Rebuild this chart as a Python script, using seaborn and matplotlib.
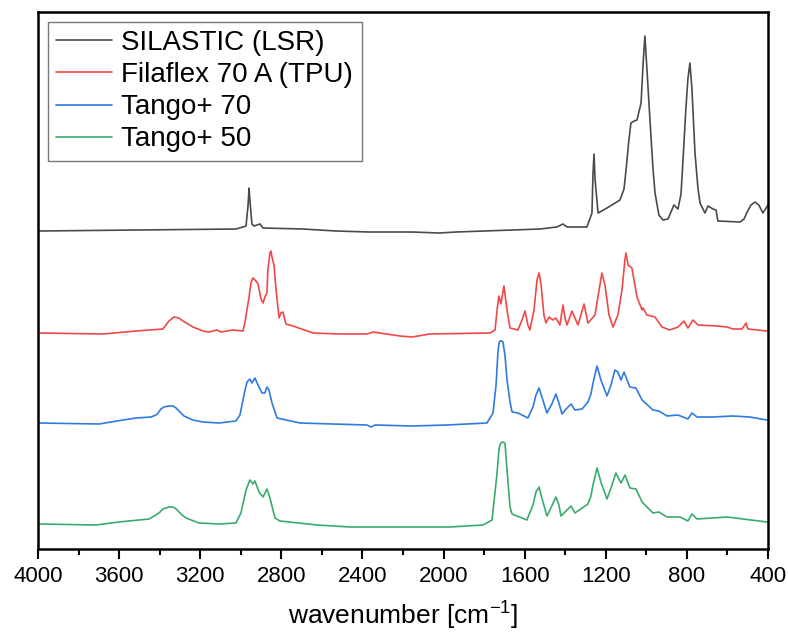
import numpy as np
import pandas as pd
import seaborn as sns
import matplotlib.pyplot as plt
from matplotlib.ticker import MultipleLocator

# spectra (wavenumber in cm-1, stacked intensity in a.u.)
silastic_wn = [3995, 3517, 3024, 2989, 2974, 2964, 2959, 2955, 2945, 2935, 2905, 2890,
               2693, 2530, 2368, 2151, 2022, 1939, 1524, 1441, 1411, 1391, 1293, 1268,
               1263, 1258, 1253, 1238, 1194, 1130, 1110, 1100, 1088, 1076, 1060, 1046,
               1026, 1016, 1007, 997, 982, 967, 957, 938, 918, 893, 864, 844, 829, 819,
               805, 795, 785, 775, 760, 745, 735, 711, 696, 671, 656, 647, 538, 518,
               503, 484, 464, 445, 425, 400]
silastic_int = [318, 319, 320, 322, 323, 344, 361, 349, 325, 323, 325, 321,
                320, 318, 317, 317, 316, 317, 320, 322, 325, 322, 322, 336,
                375, 395, 370, 336, 341, 349, 360, 379, 405, 426, 428, 429,
                446, 485, 513, 480, 429, 380, 356, 334, 329, 330, 344, 340, 355, 389,
                440, 470, 486, 460, 396, 360, 346, 336, 343, 340, 339, 328, 327, 330,
                337, 344, 347, 344, 336, 344]

tpu_wn = [3995, 3679, 3517, 3384, 3369, 3354, 3329, 3305, 3285, 3236, 3186, 3157, 3117,
          3098, 3038, 2989, 2979, 2969, 2959, 2950, 2940, 2925, 2915, 2900, 2890, 2881,
          2871, 2866, 2856, 2851, 2846, 2836, 2826, 2811, 2802, 2792, 2777, 2742, 2644,
          2511, 2378, 2348, 2215, 2156, 2067, 1771, 1746, 1736, 1727, 1717, 1702, 1687,
          1672, 1633, 1613, 1598, 1584, 1574, 1554, 1539, 1529, 1519, 1505, 1495, 1480,
          1460, 1446, 1426, 1411, 1401, 1391, 1367, 1337, 1307, 1288, 1253, 1233, 1219,
          1204, 1184, 1164, 1140, 1120, 1105, 1100, 1090, 1071, 1046, 1021, 1016, 997,
          957, 923, 884, 844, 814, 795, 770, 745, 651, 602, 573, 528, 508, 499, 405]
tpu_int = [216, 215, 218, 220, 224, 228, 232, 231, 228, 222, 218, 217, 219,
           217, 219, 218, 227, 240, 252, 266, 271, 268, 265, 250, 246, 252,
           256, 280, 296, 298, 292, 284, 259, 231, 236, 237, 225, 223, 216,
           215, 215, 217, 213, 212, 215, 216, 219, 239, 253, 245, 263, 239,
           221, 219, 229, 238, 224, 219, 239, 269, 276, 264, 234, 226, 232,
           229, 231, 224, 244, 231, 224, 238, 224, 245, 226, 234, 259, 276,
           264, 234, 222, 234, 259, 290, 296, 284, 281, 252, 239, 241, 234,
           232, 222, 219, 222, 228, 221, 229, 224, 223, 222, 220, 220, 226, 220, 218]

tango70_wn = [3995, 3699, 3581, 3517, 3443, 3418, 3408, 3394, 3379, 3354, 3334, 3319, 3300,
              3280, 3236, 3186, 3107, 3024, 3004, 2979, 2969, 2955, 2945, 2930, 2915, 2895,
              2881, 2871, 2861, 2846, 2821, 2708, 2545, 2378, 2358, 2338, 2156, 1983, 1786,
              1756, 1741, 1732, 1727, 1722, 1712, 1707, 1697, 1687, 1672, 1662, 1633, 1584,
              1559, 1544, 1529, 1515, 1490, 1466, 1446, 1431, 1416, 1391, 1371, 1352, 1317,
              1288, 1273, 1263, 1243, 1224, 1194, 1174, 1155, 1140, 1125, 1110, 1095, 1081,
              1051, 1021, 967, 938, 898, 844, 795, 775, 750, 671, 573, 489, 405]
tango70_int = [126, 125, 129, 131, 132, 134, 136, 140, 142, 143, 143, 141, 137,
               133, 129, 127, 126, 128, 134, 159, 167, 170, 166, 171, 164, 156,
               156, 162, 159, 146, 131, 126, 125, 124, 122, 124, 123, 124, 126,
               136, 164, 196, 205, 208, 208, 207, 194, 169, 147, 137, 136, 131,
               142, 154, 161, 152, 136, 145, 155, 146, 135, 141, 145, 139, 140,
               147, 155, 166, 183, 169, 153, 164, 179, 177, 169, 177, 169, 162,
               161, 149, 139, 138, 133, 134, 130, 136, 132, 132, 133, 132, 129]

tango50_wn = [3995, 3714, 3601, 3453, 3418, 3398, 3384, 3354, 3334, 3319, 3295, 3270, 3206,
              3107, 3024, 2999, 2974, 2955, 2940, 2930, 2910, 2890, 2871, 2856, 2831, 2807,
              2624, 2461, 2363, 2156, 1968, 1805, 1761, 1736, 1727, 1722, 1717, 1707, 1697,
              1687, 1672, 1662, 1589, 1559, 1544, 1529, 1515, 1490, 1466, 1446, 1431, 1421,
              1371, 1352, 1288, 1273, 1263, 1243, 1224, 1194, 1174, 1150, 1125, 1105, 1081,
              1051, 1021, 967, 938, 898, 834, 795, 775, 750, 602, 405]
tango50_int = [25, 24, 27, 30, 34, 37, 40, 42, 42, 40, 35, 31, 26,
               25, 26, 36, 59, 69, 65, 68, 57, 52, 60, 51, 31, 28,
               24, 22, 22, 22, 22, 24, 29, 76, 99, 104, 106, 107, 106,
               79, 42, 35, 29, 44, 57, 62, 51, 33, 43, 52, 44, 33,
               43, 36, 45, 53, 64, 81, 67, 50, 61, 76, 66, 74, 61,
               60, 47, 36, 37, 32, 32, 28, 35, 30, 32, 27]

labels = ["SILASTIC (LSR)", "Filaflex 70 A (TPU)", "Tango+ 70", "Tango+ 50"]
colors = ["#4a4a4a", "#f04848", "#2f7be0", "#3aab6c"]

frames = []
for name, wn, inten in zip(labels,
                           [silastic_wn, tpu_wn, tango70_wn, tango50_wn],
                           [silastic_int, tpu_int, tango70_int, tango50_int]):
    frames.append(pd.DataFrame({"wavenumber": wn, "intensity": inten, "sample": name}))
df = pd.concat(frames, ignore_index=True)

sns.set_style("ticks")
plt.rcParams["font.family"] = ["Liberation Sans", "DejaVu Sans"]
plt.rcParams["text.color"] = "black"
plt.rcParams["axes.labelcolor"] = "black"
plt.rcParams["xtick.color"] = "black"

fig = plt.figure(figsize=(7.88, 6.36), dpi=100)
ax = fig.add_axes([0.0482, 0.1368, 0.9264, 0.8443])

sns.lineplot(data=df, x="wavenumber", y="intensity", hue="sample", hue_order=labels,
             palette=colors, linewidth=1.2, ax=ax, estimator=None, sort=True)

ax.set_xlim(4000, 400)
ax.set_ylim(0, 537)
ax.xaxis.set_major_locator(MultipleLocator(400))
ax.xaxis.set_minor_locator(MultipleLocator(200))
ax.tick_params(axis="x", which="major", direction="out", length=7, width=1.5,
               labelsize=16, pad=5, colors="black")
ax.tick_params(axis="x", which="minor", direction="out", length=4, width=1.5,
               colors="black")
ax.set_yticks([])
ax.set_ylabel("")
ax.set_xlabel("wavenumber [cm$^{\\mathregular{-1}}$]", fontsize=19, labelpad=8,
              color="black")
for sp in ax.spines.values():
    sp.set_linewidth(1.8)
    sp.set_color("black")

leg = ax.legend(loc="upper left", fontsize=20, frameon=True, fancybox=False,
                handlelength=2.0, labelspacing=0.22, borderpad=0.3,
                handletextpad=0.35, borderaxespad=0.35)
leg.get_frame().set_edgecolor("#555555")
leg.get_frame().set_linewidth(1.0)
for line in leg.get_lines():
    line.set_linewidth(1.2)
for txt in leg.get_texts():
    txt.set_color("black")

fig.savefig("out.png", dpi=100)
